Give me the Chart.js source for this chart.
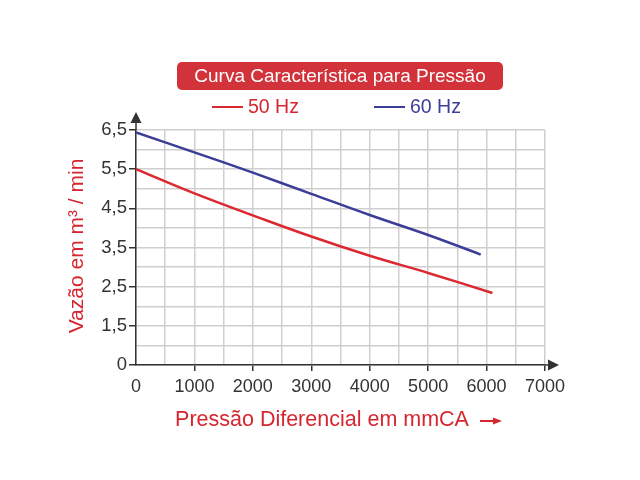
<!DOCTYPE html>
<html>
<head>
<meta charset="utf-8">
<script src="https://cdn.jsdelivr.net/npm/chart.js@4"></script>
<style>
  html, body { margin: 0; padding: 0; background: #fff; }
  #wrap { width: 640px; height: 480px; }
</style>
</head>
<body>
<div id="wrap"><canvas id="chart" width="640" height="480"></canvas></div>
<script>
// values (pressure in mmCA, flow in m3/min)
const x50 = [0, 1000, 2000, 3000, 4000, 5000, 6100];
const y50 = [5.5, 4.88, 4.32, 3.78, 3.29, 2.85, 2.34];
const x60 = [0, 1000, 2000, 3000, 4000, 5000, 5900];
const y60 = [6.44, 5.93, 5.41, 4.87, 4.33, 3.82, 3.32];

const xTickLabels = ['0', '1000', '2000', '3000', '4000', '5000', '6000', '7000'];
// the y axis is not linear in its labels: the bottom step is labelled 0
const yTickLabels = ['0', '1,5', '2,5', '3,5', '4,5', '5,5', '6,5'];

const chartTitle = 'Curva Característica para Pressão';
const xTitle = 'Pressão Diferencial em mmCA';
const yTitle = 'Vazão em m³ / min';

const RED = '#dc2830';
const BLUE = '#3b3d97';
const TEXT_RED = '#d7262f';
const BOX_RED = '#d2323a';
const AXIS = '#333333';
const GRID = '#cfcfcf';
const FONT = "'Liberation Sans', Arial, sans-serif";

function pairs(xs, ys) {
    return xs.map((x, i) => ({ x: x, y: ys[i] }));
}

function arrowHead(ctx, tipX, tipY, dir) {
    ctx.beginPath();
    if (dir === 'up') {
        ctx.moveTo(tipX, tipY);
        ctx.lineTo(tipX - 5.5, tipY + 11);
        ctx.lineTo(tipX + 5.5, tipY + 11);
    } else {
        ctx.moveTo(tipX, tipY);
        ctx.lineTo(tipX - 11, tipY - 5.5);
        ctx.lineTo(tipX - 11, tipY + 5.5);
    }
    ctx.closePath();
    ctx.fill();
}

const decor = {
    id: 'decor',
    beforeDraw(chart) {
        const ctx = chart.ctx;
        ctx.save();
        ctx.fillStyle = '#fff';
        ctx.fillRect(0, 0, chart.width, chart.height);
        ctx.restore();
    },
    afterDraw(chart) {
        const ctx = chart.ctx;
        const a = chart.chartArea;
        ctx.save();

        // axis extensions with arrows
        ctx.strokeStyle = AXIS;
        ctx.fillStyle = AXIS;
        ctx.lineWidth = 1.5;
        ctx.beginPath();
        ctx.moveTo(a.left, a.top);
        ctx.lineTo(a.left, 120);
        ctx.moveTo(a.right, a.bottom);
        ctx.lineTo(550, a.bottom);
        ctx.stroke();
        arrowHead(ctx, a.left, 112, 'up');
        arrowHead(ctx, 559, a.bottom, 'right');

        // title box
        ctx.fillStyle = BOX_RED;
        ctx.beginPath();
        ctx.roundRect(177, 62, 326, 28, 5);
        ctx.fill();
        ctx.fillStyle = '#fff';
        ctx.font = '19px ' + FONT;
        ctx.textAlign = 'center';
        ctx.textBaseline = 'middle';
        ctx.fillText(chartTitle, 340, 76.5);

        // legend
        const legendPos = [212, 374];
        ctx.font = '19.5px ' + FONT;
        ctx.textAlign = 'left';
        chart.data.datasets.forEach((ds, i) => {
            const lx = legendPos[i];
            ctx.strokeStyle = ds.borderColor;
            ctx.lineWidth = 2;
            ctx.beginPath();
            ctx.moveTo(lx, 107);
            ctx.lineTo(lx + 31, 107);
            ctx.stroke();
            ctx.fillStyle = ds.borderColor === RED ? TEXT_RED : BLUE;
            ctx.fillText(ds.label, lx + 36, 108);
        });

        // axis titles
        ctx.fillStyle = TEXT_RED;
        ctx.font = '21.5px ' + FONT;
        ctx.textAlign = 'center';
        ctx.fillText(xTitle, 322, 420);
        ctx.strokeStyle = TEXT_RED;
        ctx.lineWidth = 2;
        ctx.beginPath();
        ctx.moveTo(480, 421);
        ctx.lineTo(494, 421);
        ctx.stroke();
        ctx.beginPath();
        ctx.moveTo(502, 421);
        ctx.lineTo(493, 417.5);
        ctx.lineTo(493, 424.5);
        ctx.closePath();
        ctx.fill();

        ctx.font = '21px ' + FONT;
        ctx.translate(77, 246);
        ctx.rotate(-Math.PI / 2);
        ctx.fillText(yTitle, 0, 0);
        ctx.restore();
    }
};

const ctx = document.getElementById('chart');
new Chart(ctx, {
    type: 'line',
    data: {
        datasets: [{
            label: '50 Hz',
            data: pairs(x50, y50),
            borderColor: RED,
            borderWidth: 2.5,
            pointRadius: 0,
            tension: 0.4,
            fill: false
        }, {
            label: '60 Hz',
            data: pairs(x60, y60),
            borderColor: BLUE,
            borderWidth: 2.5,
            pointRadius: 0,
            tension: 0.4,
            fill: false
        }]
    },
    options: {
        responsive: false,
        animation: false,
        devicePixelRatio: 1,
        layout: { padding: { left: 0, top: 130, right: 95, bottom: 0 } },
        plugins: {
            legend: { display: false },
            title: { display: false },
            tooltip: { enabled: false }
        },
        scales: {
            x: {
                type: 'linear',
                min: 0,
                max: 7000,
                afterFit: s => { s.height = 115; },
                border: { color: AXIS, width: 1.5 },
                grid: {
                    color: GRID,
                    lineWidth: 1.5,
                    tickLength: 6,
                    tickWidth: 1.5,
                    tickColor: c => (c.tick && c.tick.value % 1000 === 0 && c.tick.value > 0) ? AXIS : 'rgba(0,0,0,0)'
                },
                ticks: {
                    stepSize: 500,
                    autoSkip: false,
                    maxRotation: 0,
                    padding: 5,
                    color: AXIS,
                    font: { family: FONT, size: 18 },
                    callback: v => v % 1000 === 0 ? xTickLabels[v / 1000] : ''
                }
            },
            y: {
                type: 'linear',
                min: 0.5,
                max: 6.5,
                afterFit: s => { s.width = 136; },
                border: { color: AXIS, width: 1.5 },
                grid: {
                    color: GRID,
                    lineWidth: 1.5,
                    tickLength: 7,
                    tickWidth: 1.5,
                    tickColor: c => {
                        if (!c.tick) return 'rgba(0,0,0,0)';
                        const i = Math.round((c.tick.value - 0.5) * 2);
                        return i % 2 === 0 ? AXIS : 'rgba(0,0,0,0)';
                    }
                },
                ticks: {
                    stepSize: 0.5,
                    autoSkip: false,
                    padding: 2,
                    color: AXIS,
                    font: { family: FONT, size: 18.5 },
                    callback: v => {
                        const i = Math.round((v - 0.5) * 2);
                        return i % 2 === 0 ? yTickLabels[i / 2] : '';
                    }
                }
            }
        }
    },
    plugins: [decor]
});
</script>
</body>
</html>
